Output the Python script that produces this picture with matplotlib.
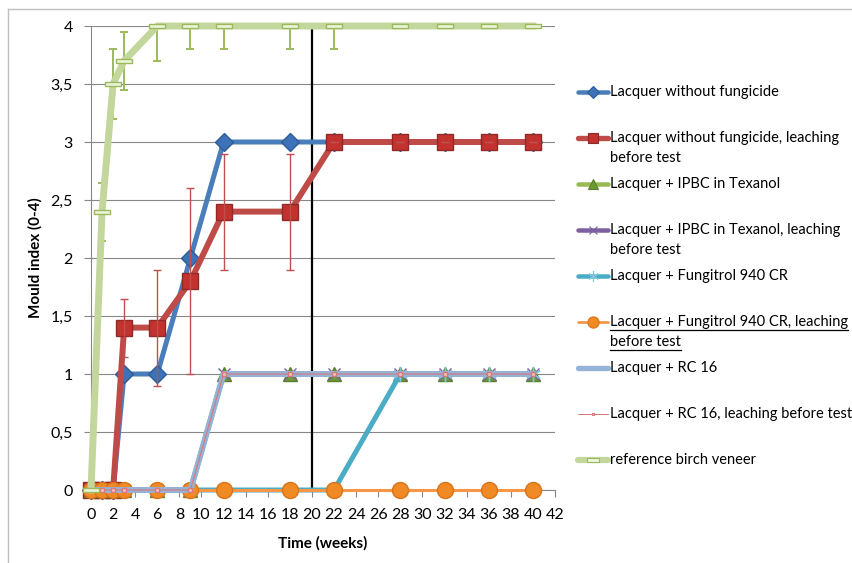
import matplotlib.pyplot as plt
from matplotlib.path import Path
from matplotlib.ticker import FuncFormatter, MultipleLocator

plt.rcParams['font.family'] = ['Lato', 'DejaVu Sans']

# time points (weeks) of the mould ratings
weeks = [0, 1, 2, 3, 6, 9, 12, 18, 22, 28, 32, 36, 40]

no_fungicide = [0, 0, 0, 1, 1, 2, 3, 3, 3, 3, 3, 3, 3]
no_fungicide_leached = [0, 0, 0, 1.4, 1.4, 1.8, 2.4, 2.4, 3, 3, 3, 3, 3]
no_fungicide_leached_err = [0, 0, 0, 0.25, 0.5, 0.8, 0.5, 0.5, 0, 0, 0, 0, 0]
ipbc = [0, 0, 0, 0, 0, 0, 1, 1, 1, 1, 1, 1, 1]
ipbc_leached = [0, 0, 0, 0, 0, 0, 1, 1, 1, 1, 1, 1, 1]
fungitrol = [0, 0, 0, 0, 0, 0, 0, 0, 0, 1, 1, 1, 1]
fungitrol_leached = [0, 0, 0, 0, 0, 0, 0, 0, 0, 0, 0, 0, 0]
rc16 = [0, 0, 0, 0, 0, 0, 1, 1, 1, 1, 1, 1, 1]
rc16_leached = [0, 0, 0, 0, 0, 0, 1, 1, 1, 1, 1, 1, 1]
reference = [0, 2.4, 3.5, 3.7, 4, 4, 4, 4, 4, 4, 4, 4, 4]
reference_err = [0, 0.25, 0.3, 0.25, 0.3, 0.2, 0.2, 0.2, 0.2, 0, 0, 0, 0]

leaching_start = 20  # vertical marker line

labels = [
    'Lacquer without fungicide',
    'Lacquer without fungicide, leaching\nbefore test',
    'Lacquer + IPBC in Texanol',
    'Lacquer + IPBC in Texanol, leaching\nbefore test',
    'Lacquer + Fungitrol 940 CR',
    'Lacquer + Fungitrol 940 CR, leaching\nbefore test',
    'Lacquer + RC 16',
    'Lacquer + RC 16, leaching before test',
    'reference birch veneer',
]
series = [no_fungicide, no_fungicide_leached, ipbc, ipbc_leached, fungitrol,
          fungitrol_leached, rc16, rc16_leached, reference]

# flat bar marker used by the reference series
bar_marker = Path([(-1, -0.28), (1, -0.28), (1, 0.28), (-1, 0.28), (-1, -0.28)],
                  [Path.MOVETO, Path.LINETO, Path.LINETO, Path.LINETO, Path.CLOSEPOLY])

# line colour, width, marker, marker size, marker face, marker edge
styles = [
    dict(color='#4A7EBB', lw=3.6, marker='D', ms=9, mfc='#3D72B8', mec='#2E5C96'),
    dict(color='#BE4B48', lw=4.3, marker='s', ms=11, mfc='#C3322E', mec='#8E2A27'),
    dict(color='#98B954', lw=3.6, marker='^', ms=10, mfc='#6E9A35', mec='#5A7F2A'),
    dict(color='#7D60A0', lw=3.6, marker='x', ms=9, mfc='#7D60A0', mec='#7D60A0'),
    dict(color='#4BACC6', lw=3.6, marker=(6, 2, 0), ms=11, mfc='#7FC6D9', mec='#7FC6D9'),
    dict(color='#F79646', lw=2.2, marker='o', ms=11.5, mfc='#F08A24', mec='#D9731A'),
    dict(color='#95B3D7', lw=4.3, marker=None, ms=0, mfc='#95B3D7', mec='#95B3D7'),
    dict(color='#D9777A', lw=0.8, marker='s', ms=2.5, mfc='#F2C4C4', mec='#D9777A'),
    dict(color='#C3D69B', lw=5.0, marker=bar_marker, ms=12, mfc='#EEF3E0', mec='#9BBB59'),
]

fig = plt.figure(figsize=(8.53, 5.63), dpi=100)
ax = fig.add_axes([91 / 853, 73 / 563, 464 / 853, 464 / 563])

ax.axvline(leaching_start, color='black', lw=1.6, zorder=1.5)

for i, (vals, st) in enumerate(zip(series, styles)):
    ax.plot(weeks, vals, color=st['color'], lw=st['lw'], marker=st['marker'],
            ms=st['ms'], mfc=st['mfc'], mec=st['mec'], mew=1,
            solid_joinstyle='round', clip_on=False, zorder=2 + i)
    if i == 1:
        ax.errorbar(weeks, vals, yerr=no_fungicide_leached_err, fmt='none',
                    ecolor='#C0504D', elinewidth=1, capsize=3, capthick=1,
                    zorder=2 + i + 0.5)
    if i == 8:
        ax.errorbar(weeks, vals, yerr=reference_err, fmt='none',
                    ecolor='#9BBB59', elinewidth=1.4, capsize=3, capthick=1.4,
                    zorder=2 + i - 0.5)

ax.set_xlim(0, 42)
ax.set_ylim(0, 4)
ax.xaxis.set_major_locator(MultipleLocator(2))
ax.yaxis.set_major_locator(MultipleLocator(0.5))
ax.yaxis.set_major_formatter(FuncFormatter(lambda v, p: f'{v:g}'.replace('.', ',')))
ax.grid(axis='y', color='#878787', lw=0.8)
ax.set_axisbelow(True)
for side in ['top', 'right']:
    ax.spines[side].set_visible(False)
for side in ['left', 'bottom']:
    ax.spines[side].set_color('#878787')
    ax.spines[side].set_linewidth(0.8)
ax.tick_params(axis='both', colors='#878787', labelcolor='black', labelsize=11.5,
               length=5, width=0.8)
ax.tick_params(axis='x', pad=8)
ax.tick_params(axis='y', pad=8)
ax.set_xlabel('Time (weeks)', fontsize=11, fontweight='bold', labelpad=10)
ax.set_ylabel('Mould index (0-4)', fontsize=11, fontweight='bold', labelpad=6)

# overlay in pixel coordinates for chart border and legend
lax = fig.add_axes([0, 0, 1, 1], zorder=-1)
lax.set_xlim(0, 853)
lax.set_ylim(563, 0)
lax.axis('off')
lax.plot([8, 8], [563, 9], color='#BFBFBF', lw=1)
lax.plot([8, 853], [9, 9], color='#BFBFBF', lw=1)

leg = fig.add_axes([0, 0, 1, 1])
leg.set_xlim(0, 853)
leg.set_ylim(563, 0)
leg.axis('off')
texts = []
for k, (lab, st) in enumerate(zip(labels, styles)):
    y = 92 + 46 * k
    leg.plot([578, 608], [y, y], color=st['color'], lw=st['lw'] * 0.9,
             solid_capstyle='round')
    if st['marker'] is not None:
        leg.plot([593], [y], marker=st['marker'], ms=st['ms'] * 0.7,
                 mfc=st['mfc'], mec=st['mec'], mew=0.8, color=st['color'])
    for j, line in enumerate(lab.split('\n')):
        t = leg.text(610, y + 20 * j, line, fontsize=10.5, va='center', ha='left')
        texts.append((k, t))

# the Fungitrol leaching entry is underlined in the original
fig.canvas.draw()
renderer = fig.canvas.get_renderer()
for k, t in texts:
    if k == 5:
        bb = t.get_window_extent(renderer)
        yb = 563 - bb.y0 + 1
        leg.plot([bb.x0, bb.x1], [yb, yb], color='black', lw=0.9)

fig.savefig('out.png', dpi=100)
